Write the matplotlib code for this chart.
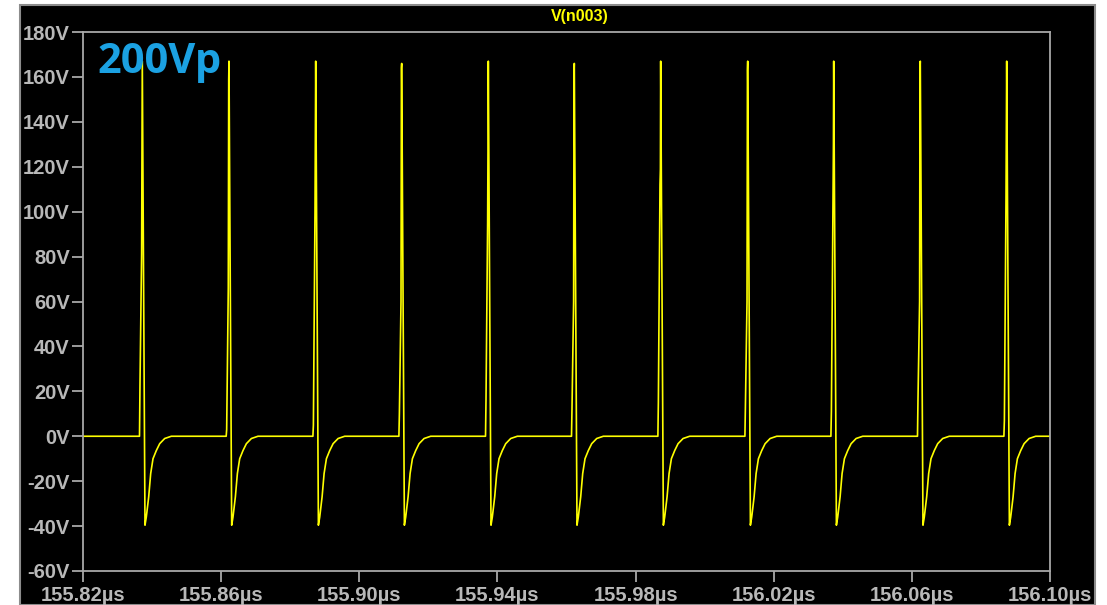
"""
LTspice style transient plot of V(n003), 200Vp drive
"""
import numpy as np
import matplotlib
matplotlib.use('Agg')
import matplotlib.pyplot as plt
from matplotlib.patches import Rectangle

# pulse peak times (us)
peak_times = [155.83717, 155.86227, 155.88738, 155.91228, 155.93736, 155.96226,
              155.98727, 156.01247, 156.03737, 156.06244, 156.08746]
# small pre-step before each spike (V)
step_v = [23, 3, 5, 10, 16, 12, 15, 13, 11, 16, 7]
# samples on the rising edge (V)
rise_lo_v = [81, 66, 101, 60, 95, 60, 112, 60, 102, 60, 106]
rise_hi_v = [142, 159, 145, 164, 132, 162, 119, 163, 130, 164, 145]
peak_v = [167, 167, 167, 166, 167, 166, 167, 167, 167, 167, 167]

# shared shape of the ring-down after every spike: offset from peak (ns), value (V)
tail_ns = [0.78, 1.16, 1.85, 2.43, 3.10, 4.05, 5.04, 6.49, 8.40]
tail_v = [-39.6, -36, -27, -16.6, -10, -6.4, -3.3, -1.0, 0.0]

x_ticks = [155.82, 155.86, 155.90, 155.94, 155.98, 156.02, 156.06, 156.10]
y_ticks = [-60, -40, -20, 0, 20, 40, 60, 80, 100, 120, 140, 160, 180]

t = [155.82]
v = [0.0]
for i, tp in enumerate(peak_times):
    offs = [-0.81, -0.67, -0.20, -0.08, 0.0] + tail_ns
    vals = [0.0, step_v[i], rise_lo_v[i], rise_hi_v[i], peak_v[i]] + tail_v
    for o, val in zip(offs, vals):
        t.append(tp + o / 1000.0)
        v.append(val)
t.append(156.10)
v.append(0.0)
t = np.array(t)
v = np.array(v)

W, H = 1107, 605
fig = plt.figure(figsize=(W / 100, H / 100), dpi=100, facecolor='white')

# black window background behind the axes
bg = Rectangle((20 / W, 0), 1075 / W, 1 - 5 / H, transform=fig.transFigure,
               facecolor='black', edgecolor='#8c8c8c', linewidth=1.5, zorder=-5)
fig.patches.append(bg)

ax = fig.add_axes([83 / W, 1 - 571 / H, 967 / W, 539 / H], zorder=2)
ax.set_facecolor('black')
ax.plot(t, v, color='#ffff00', linewidth=1.2)

ax.set_xlim(155.82, 156.10)
ax.set_ylim(-60, 180)
gray = '#a8a8a8'
for s in ax.spines.values():
    s.set_color(gray)
    s.set_linewidth(1.3)
ax.set_xticks(x_ticks)
ax.set_xticklabels(['%.2f\u00b5s' % x for x in x_ticks])
ax.set_yticks(y_ticks)
ax.set_yticklabels(['%dV' % y for y in y_ticks])
ax.tick_params(colors=gray, length=8, width=1.3)
ax.tick_params(axis='x', pad=3)
ax.tick_params(axis='y', pad=1.5)
for lbl in ax.get_xticklabels() + ax.get_yticklabels():
    lbl.set_family('Liberation Sans')
    lbl.set_weight('bold')
    lbl.set_fontsize(14.5)
    lbl.set_color('#b8b8b8')

fig.text(580 / W, 1 - 17 / H, 'V(n003)', color='#ffff00', fontsize=11.5, fontweight='bold',
         family='Liberation Sans', ha='center', va='center', zorder=5)
fig.text(97 / W, 1 - 73 / H, '200Vp', color='#1ba1e2', fontsize=30, fontweight='bold',
         family='Open Sans', ha='left', va='baseline', zorder=5)

plt.savefig('out.png', dpi=100, facecolor='white')
